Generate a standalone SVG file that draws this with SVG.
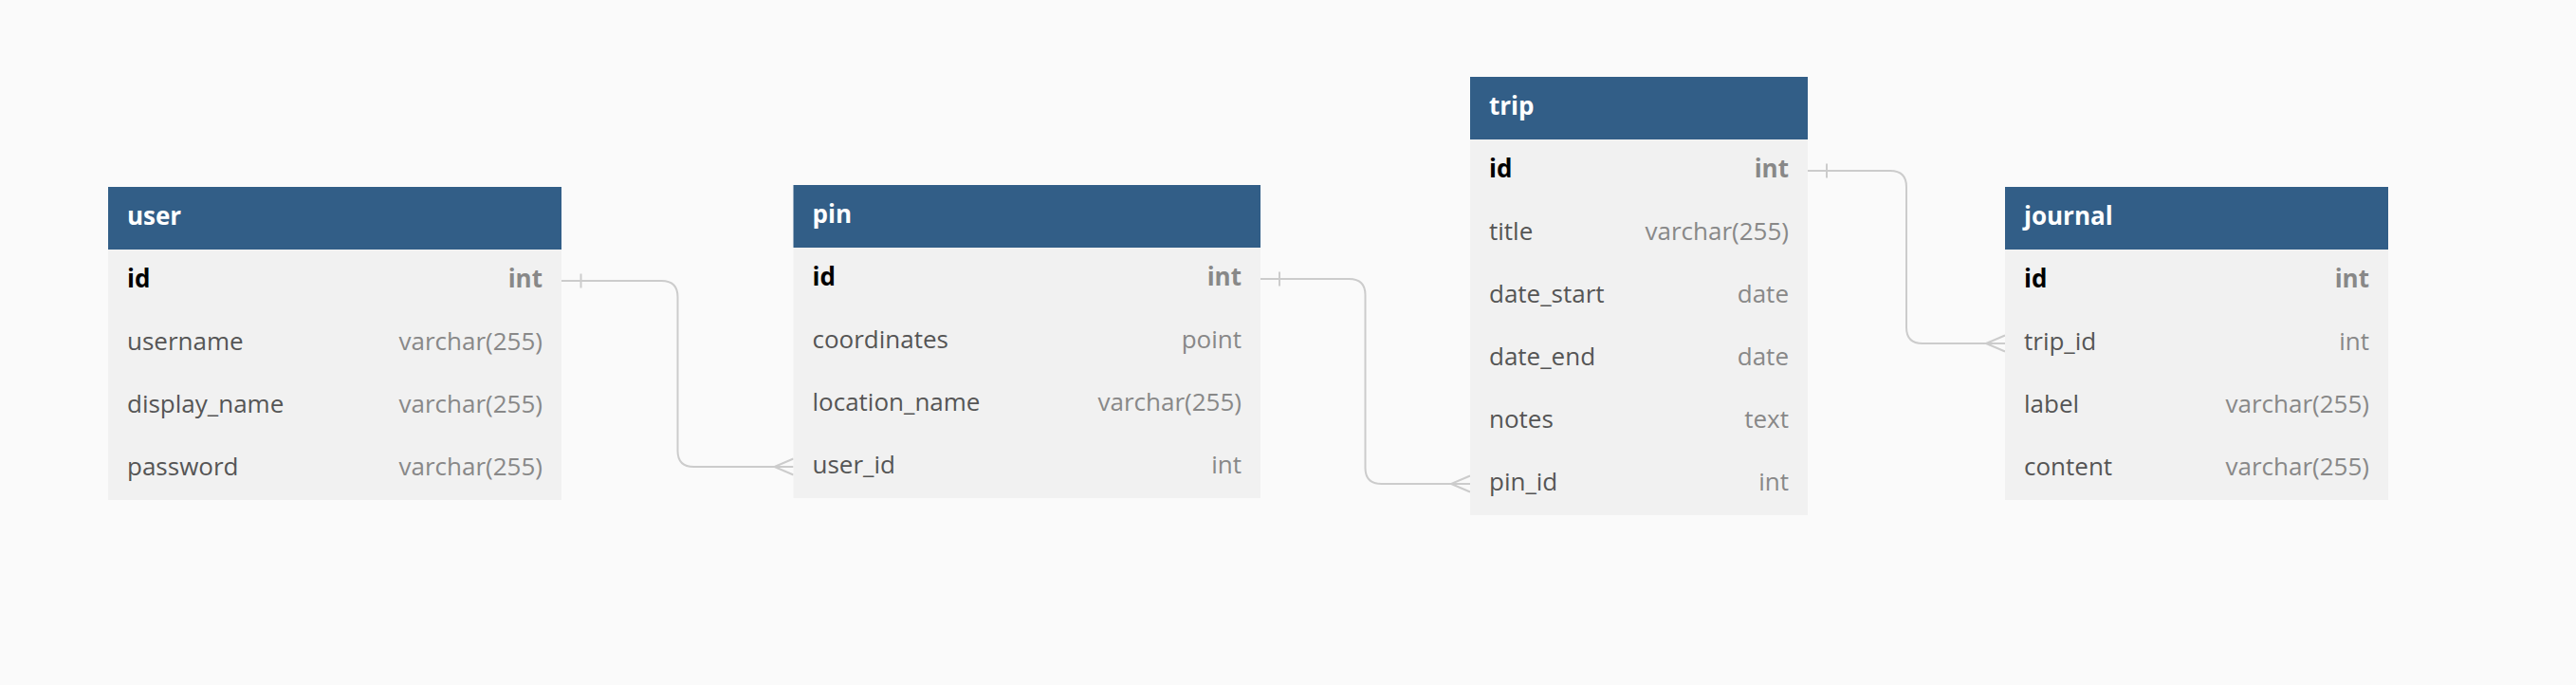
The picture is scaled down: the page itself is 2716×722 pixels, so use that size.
<svg xmlns="http://www.w3.org/2000/svg" width="2716" height="722" viewBox="0 0 2716 722">
<style>
.bg{fill:#fafafa}
.hdr{fill:#325e87}
.body{fill:#f1f1f1}
.title{font-family:"Open Sans","Noto Sans",sans-serif;font-size:26px;font-weight:700;fill:#ffffff}
.pk{font-family:"Open Sans","Noto Sans",sans-serif;font-size:26px;font-weight:700;fill:#000000}
.pkt{font-family:"Open Sans","Noto Sans",sans-serif;font-size:26px;font-weight:700;fill:#888888;text-anchor:end}
.f{font-family:"Open Sans","Noto Sans",sans-serif;font-size:26px;fill:#555555}
.t{font-family:"Open Sans","Noto Sans",sans-serif;font-size:26px;fill:#888888;text-anchor:end}
.ln{fill:none;stroke:#cccccc;stroke-width:2}
</style>
<rect class="bg" x="0" y="0" width="2716" height="722"/>
<g id="connectors">
  <g id="user-pin">
    <path class="ln" d="M592,296 H697.5 Q714.5,296 714.5,313 V475 Q714.5,492 731.5,492 H836.5"/>
    <path class="ln" d="M612.5,288.5 V303.5"/>
    <path class="ln" d="M836.5,483.5 L816.5,492 L836.5,500.5"/>
  </g>
  <g id="pin-trip">
    <path class="ln" d="M1329,294 H1422.5 Q1439.5,294 1439.5,311 V493 Q1439.5,510 1456.5,510 H1550"/>
    <path class="ln" d="M1349,286.5 V301.5"/>
    <path class="ln" d="M1550,501.5 L1530,510 L1550,518.5"/>
  </g>
  <g id="trip-journal">
    <path class="ln" d="M1906,180 H1993 Q2010,180 2010,197 V345 Q2010,362 2027,362 H2114"/>
    <path class="ln" d="M1926,172.5 V187.5"/>
    <path class="ln" d="M2114,353.5 L2094,362 L2114,370.5"/>
  </g>
</g>
<g id="user">
  <rect class="body" x="114" y="263" width="478" height="264"/>
  <rect class="hdr" x="114" y="197" width="478" height="66"/>
  <text class="title" x="134" y="237">user</text>
  <text class="pk" x="134" y="303">id</text><text class="pkt" x="572" y="303">int</text>
  <text class="f" x="134" y="369">username</text><text class="t" x="572" y="369">varchar(255)</text>
  <text class="f" x="134" y="435">display_name</text><text class="t" x="572" y="435">varchar(255)</text>
  <text class="f" x="134" y="501">password</text><text class="t" x="572" y="501">varchar(255)</text>
</g>
<g id="pin">
  <rect class="body" x="836.5" y="261" width="492.5" height="264"/>
  <rect class="hdr" x="836.5" y="195" width="492.5" height="66"/>
  <text class="title" x="856.5" y="235">pin</text>
  <text class="pk" x="856.5" y="301">id</text><text class="pkt" x="1309" y="301">int</text>
  <text class="f" x="856.5" y="367">coordinates</text><text class="t" x="1309" y="367">point</text>
  <text class="f" x="856.5" y="433">location_name</text><text class="t" x="1309" y="433">varchar(255)</text>
  <text class="f" x="856.5" y="499">user_id</text><text class="t" x="1309" y="499">int</text>
</g>
<g id="trip">
  <rect class="body" x="1550" y="147" width="356" height="396"/>
  <rect class="hdr" x="1550" y="81" width="356" height="66"/>
  <text class="title" x="1570" y="121">trip</text>
  <text class="pk" x="1570" y="187">id</text><text class="pkt" x="1886" y="187">int</text>
  <text class="f" x="1570" y="253">title</text><text class="t" x="1886" y="253">varchar(255)</text>
  <text class="f" x="1570" y="319">date_start</text><text class="t" x="1886" y="319">date</text>
  <text class="f" x="1570" y="385">date_end</text><text class="t" x="1886" y="385">date</text>
  <text class="f" x="1570" y="451">notes</text><text class="t" x="1886" y="451">text</text>
  <text class="f" x="1570" y="517">pin_id</text><text class="t" x="1886" y="517">int</text>
</g>
<g id="journal">
  <rect class="body" x="2114" y="263" width="404" height="264"/>
  <rect class="hdr" x="2114" y="197" width="404" height="66"/>
  <text class="title" x="2134" y="237">journal</text>
  <text class="pk" x="2134" y="303">id</text><text class="pkt" x="2498" y="303">int</text>
  <text class="f" x="2134" y="369">trip_id</text><text class="t" x="2498" y="369">int</text>
  <text class="f" x="2134" y="435">label</text><text class="t" x="2498" y="435">varchar(255)</text>
  <text class="f" x="2134" y="501">content</text><text class="t" x="2498" y="501">varchar(255)</text>
</g>
</svg>
